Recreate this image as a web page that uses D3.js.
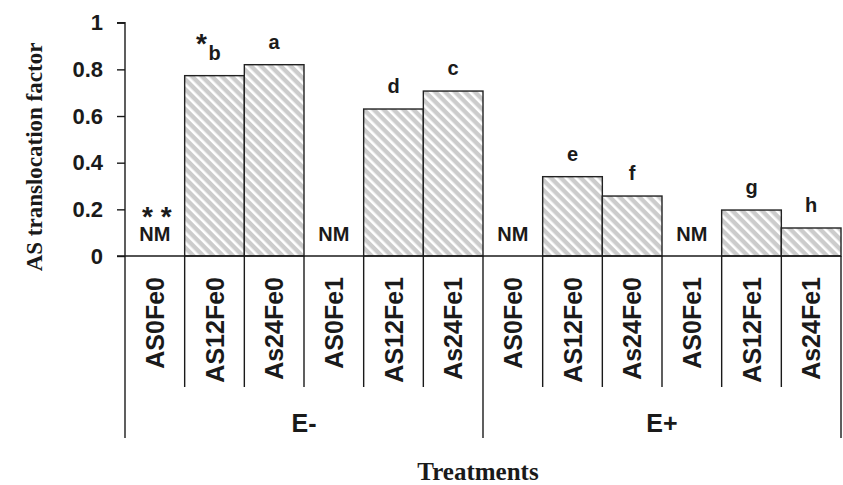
<!DOCTYPE html>
<html>
<head>
<meta charset="utf-8">
<script src="https://cdn.jsdelivr.net/npm/d3@7"></script>
<style>
  body { margin: 0; background: #fff; }
  text { font-family: "Liberation Sans", Arial, sans-serif; font-weight: bold; fill: #1a1a1a; }
  .serif { font-family: "Liberation Serif", "Times New Roman", serif; }
</style>
</head>
<body>
<figure id="chart" style="margin:0"></figure>
<script>
// data
const groups = ["E-", "E+"];
const treatments = ["AS0Fe0", "AS12Fe0", "As24Fe0", "AS0Fe1", "AS12Fe1", "As24Fe1"];
const valuesEminus = [null, 0.773, 0.82, null, 0.63, 0.707];
const valuesEplus = [null, 0.34, 0.257, null, 0.197, 0.12];
const lettersEminus = ["", "b", "a", "", "d", "c"];
const lettersEplus = ["", "e", "f", "", "g", "h"];
const yTicks = [0, 0.2, 0.4, 0.6, 0.8, 1];

const width = 843, height = 485;
const plotLeft = 125, plotRight = 841, plotTop = 22.7, zeroY = 256;

const rows = [];
groups.forEach((g, gi) => {
  const vals = gi === 0 ? valuesEminus : valuesEplus;
  const lets = gi === 0 ? lettersEminus : lettersEplus;
  treatments.forEach((t, i) => {
    rows.push({ key: g + "|" + t, group: g, name: t, value: vals[i], letter: lets[i] });
  });
});

const svg = d3.select("#chart").append("svg")
  .attr("width", width)
  .attr("height", height);

const defs = svg.append("defs");
const pat = defs.append("pattern")
  .attr("id", "hatch")
  .attr("patternUnits", "userSpaceOnUse")
  .attr("width", 7)
  .attr("height", 7)
  .attr("patternTransform", "rotate(-45)");
pat.append("rect").attr("width", 7).attr("height", 7).attr("fill", "#cccccc");
pat.append("rect").attr("width", 2.6).attr("height", 7).attr("fill", "#ffffff");

const x = d3.scaleBand()
  .domain(rows.map(d => d.key))
  .range([plotLeft, plotRight])
  .padding(0);

const y = d3.scaleLinear()
  .domain([0, 1])
  .range([zeroY, plotTop]);

// bars
svg.selectAll("rect.bar")
  .data(rows.filter(d => d.value != null))
  .enter()
  .append("rect")
  .attr("class", "bar")
  .attr("x", d => x(d.key))
  .attr("y", d => y(d.value))
  .attr("width", x.bandwidth())
  .attr("height", d => y(0) - y(d.value))
  .attr("fill", "url(#hatch)")
  .attr("stroke", "#222")
  .attr("stroke-width", 1.4);

// significance letters
svg.selectAll("text.letter")
  .data(rows.filter(d => d.value != null))
  .enter()
  .append("text")
  .attr("class", "letter")
  .attr("x", d => x(d.key) + x.bandwidth() / 2)
  .attr("y", d => y(d.value) - 16)
  .attr("text-anchor", "middle")
  .style("font-size", "20px")
  .text(d => d.letter);

// asterisk next to the first letter
const starRow = rows[1];
svg.append("text")
  .attr("x", x(starRow.key) + x.bandwidth() / 2 - 13)
  .attr("y", y(starRow.value) - 23)
  .attr("text-anchor", "middle")
  .style("font-size", "28px")
  .text("*");

// NM labels
svg.selectAll("text.nm")
  .data(rows.filter(d => d.value == null))
  .enter()
  .append("text")
  .attr("class", "nm")
  .attr("x", d => x(d.key) + x.bandwidth() / 2)
  .attr("y", zeroY - 15)
  .attr("text-anchor", "middle")
  .style("font-size", "20px")
  .text("NM");

svg.append("text")
  .attr("x", x(rows[0].key) + x.bandwidth() / 2 + 2)
  .attr("y", zeroY - 30)
  .attr("text-anchor", "middle")
  .style("font-size", "28px")
  .text("* *");

// y axis
const yAxis = svg.append("g")
  .attr("transform", `translate(${plotLeft},0)`)
  .call(d3.axisLeft(y).tickValues(yTicks).tickSize(8).tickPadding(14)
    .tickFormat(d => d === 0 ? "0" : d === 1 ? "1" : d3.format(".1f")(d)));
yAxis.select(".domain").attr("stroke", "#1a1a1a").attr("stroke-width", 1.4).attr("d", `M-8,${plotTop}H0V${zeroY}`);
yAxis.selectAll(".tick line").attr("stroke", "#1a1a1a").attr("stroke-width", 1.4);
yAxis.selectAll(".tick text").style("font-size", "22px").attr("fill", "#1a1a1a");

// zero line
svg.append("line")
  .attr("x1", plotLeft - 8).attr("x2", plotRight)
  .attr("y1", zeroY).attr("y2", zeroY)
  .attr("stroke", "#1a1a1a").attr("stroke-width", 1.4);

// category separators
const bounds = rows.map(d => x(d.key)).concat([plotRight]);
svg.selectAll("line.sep")
  .data(bounds)
  .enter()
  .append("line")
  .attr("class", "sep")
  .attr("x1", d => d).attr("x2", d => d)
  .attr("y1", zeroY)
  .attr("y2", (d, i) => (i % treatments.length === 0) ? 438 : 387)
  .attr("stroke", "#1a1a1a")
  .attr("stroke-width", 1.4);

// category labels
svg.selectAll("text.cat")
  .data(rows)
  .enter()
  .append("text")
  .attr("class", "cat")
  .attr("transform", d => `translate(${x(d.key) + x.bandwidth() / 2 + 9},277) rotate(-90)`)
  .attr("text-anchor", "end")
  .style("font-size", "25px")
  .text(d => d.name);

// group labels
groups.forEach((g, gi) => {
  const x0 = x(g + "|" + treatments[0]);
  const x1 = x(g + "|" + treatments[treatments.length - 1]) + x.bandwidth();
  svg.append("text")
    .attr("x", (x0 + x1) / 2)
    .attr("y", 432)
    .attr("text-anchor", "middle")
    .style("font-size", "25px")
    .text(g);
});

// axis titles
svg.append("text")
  .attr("class", "serif")
  .attr("x", 478)
  .attr("y", 480)
  .attr("text-anchor", "middle")
  .style("font-size", "25px")
  .text("Treatments");

svg.append("text")
  .attr("class", "serif")
  .attr("transform", "translate(42,157) rotate(-90)")
  .attr("text-anchor", "middle")
  .style("font-size", "23px")
  .text("AS translocation factor");
</script>
</body>
</html>
